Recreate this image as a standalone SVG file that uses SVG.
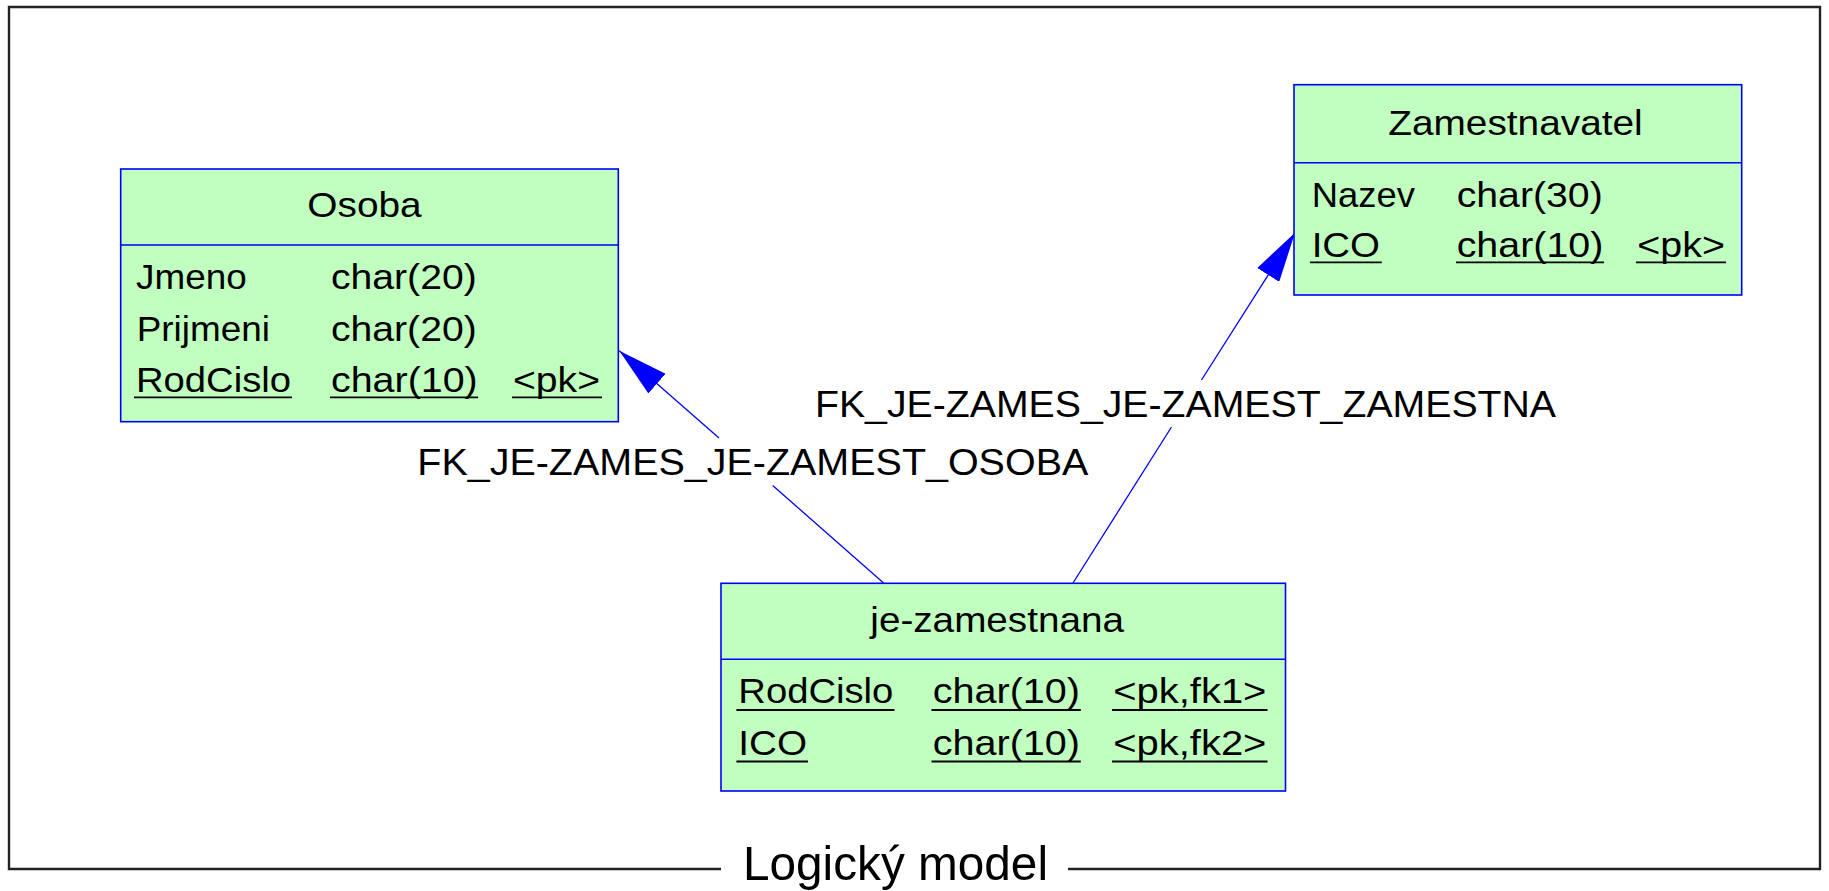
<svg xmlns="http://www.w3.org/2000/svg" width="1829" height="891" viewBox="0 0 1829 891">
<style>
text{font-family:"Liberation Sans",Arial,Helvetica,sans-serif;fill:#000}
.t{font-size:35px}
.h{font-size:35px}
.lbl{font-size:37px}
.ttl{font-size:49px}
.box{fill:#c0ffc0;stroke:#0000ff;stroke-width:1.6}
.div{stroke:#0000ff;stroke-width:1.6}
.ul{stroke:#000;stroke-width:1.8}
.con{stroke:#0000ff;stroke-width:1.3;fill:none}
.frame{stroke:#222;stroke-width:2.4;fill:none}
</style>
<defs>
<marker id="arr" markerUnits="userSpaceOnUse" markerWidth="50" markerHeight="26" viewBox="0 0 50 26" refX="50" refY="13" orient="auto">
<path d="M0,0 L50,13 L0,26 Z" fill="#0000ff"/>
</marker>
</defs>
<rect width="1829" height="891" fill="#fff"/>
<g id="frame">
<path class="frame" d="M721,869 H9 V7 H1820 V869 H1068"/>
<text class="ttl" x="743" y="880" textLength="305" lengthAdjust="spacingAndGlyphs">Logický model</text>
</g>
<g id="connectors">
<line class="con" x1="883.3" y1="582.7" x2="772.7" y2="485.5"/>
<line class="con" x1="719" y1="438" x2="619.3" y2="350.7" marker-end="url(#arr)"/>
<line class="con" x1="1073" y1="583" x2="1171.5" y2="427"/>
<line class="con" x1="1201.5" y1="380" x2="1295" y2="232.7" marker-end="url(#arr)"/>
<text class="lbl" x="417.3" y="475" textLength="671" lengthAdjust="spacingAndGlyphs">FK_JE-ZAMES_JE-ZAMEST_OSOBA</text>
<text class="lbl" x="815" y="417.3" textLength="741" lengthAdjust="spacingAndGlyphs">FK_JE-ZAMES_JE-ZAMEST_ZAMESTNA</text>
</g>
<g id="osoba">
<rect class="box" x="120.7" y="169" width="497.6" height="252.7"/>
<line class="div" x1="120.7" y1="245" x2="618.3" y2="245"/>
<text class="h" x="307.3" y="216.7" textLength="114.4" lengthAdjust="spacingAndGlyphs">Osoba</text>
<text class="t" x="136" y="289.3" textLength="110.7" lengthAdjust="spacingAndGlyphs">Jmeno</text>
<text class="t" x="331" y="289.3" textLength="145.7" lengthAdjust="spacingAndGlyphs">char(20)</text>
<text class="t" x="136.7" y="341.3" textLength="133.3" lengthAdjust="spacingAndGlyphs">Prijmeni</text>
<text class="t" x="331" y="341.3" textLength="145.7" lengthAdjust="spacingAndGlyphs">char(20)</text>
<text class="t" x="136" y="392" textLength="155" lengthAdjust="spacingAndGlyphs">RodCislo</text>
<text class="t" x="331" y="392" textLength="146.7" lengthAdjust="spacingAndGlyphs">char(10)</text>
<text class="t" x="513" y="392" textLength="87" lengthAdjust="spacingAndGlyphs">&lt;pk&gt;</text>
<line class="ul" x1="134" y1="397.3" x2="292" y2="397.3"/>
<line class="ul" x1="330" y1="397.3" x2="478" y2="397.3"/>
<line class="ul" x1="512" y1="397.3" x2="602" y2="397.3"/>
</g>
<g id="zamestnavatel">
<rect class="box" x="1294" y="84.7" width="447.7" height="210.3"/>
<line class="div" x1="1294" y1="162.7" x2="1741.7" y2="162.7"/>
<text class="h" x="1388.3" y="135" textLength="254.4" lengthAdjust="spacingAndGlyphs">Zamestnavatel</text>
<text class="t" x="1311.7" y="206.7" textLength="103.3" lengthAdjust="spacingAndGlyphs">Nazev</text>
<text class="t" x="1456.7" y="206.7" textLength="146" lengthAdjust="spacingAndGlyphs">char(30)</text>
<text class="t" x="1311.7" y="256.7" textLength="68.3" lengthAdjust="spacingAndGlyphs">ICO</text>
<text class="t" x="1456.7" y="256.7" textLength="146.6" lengthAdjust="spacingAndGlyphs">char(10)</text>
<text class="t" x="1637.3" y="256.7" textLength="87.7" lengthAdjust="spacingAndGlyphs">&lt;pk&gt;</text>
<line class="ul" x1="1310" y1="262.3" x2="1381.7" y2="262.3"/>
<line class="ul" x1="1456" y1="262.3" x2="1604" y2="262.3"/>
<line class="ul" x1="1636" y1="262.3" x2="1726" y2="262.3"/>
</g>
<g id="je-zamestnana">
<rect class="box" x="721" y="583.3" width="564.5" height="207.7"/>
<line class="div" x1="721" y1="659.3" x2="1285.5" y2="659.3"/>
<text class="h" x="870.3" y="631.7" textLength="253.7" lengthAdjust="spacingAndGlyphs">je-zamestnana</text>
<text class="t" x="738.3" y="703.3" textLength="155" lengthAdjust="spacingAndGlyphs">RodCislo</text>
<text class="t" x="932.7" y="703.3" textLength="147.3" lengthAdjust="spacingAndGlyphs">char(10)</text>
<text class="t" x="1113.3" y="703.3" textLength="153.1" lengthAdjust="spacingAndGlyphs">&lt;pk,fk1&gt;</text>
<text class="t" x="738.3" y="755" textLength="68.7" lengthAdjust="spacingAndGlyphs">ICO</text>
<text class="t" x="932.7" y="755" textLength="147.3" lengthAdjust="spacingAndGlyphs">char(10)</text>
<text class="t" x="1113.3" y="755" textLength="153.1" lengthAdjust="spacingAndGlyphs">&lt;pk,fk2&gt;</text>
<line class="ul" x1="736.4" y1="710" x2="894.4" y2="710"/>
<line class="ul" x1="931.5" y1="710" x2="1080.8" y2="710"/>
<line class="ul" x1="1112" y1="710" x2="1267.5" y2="710"/>
<line class="ul" x1="736.4" y1="761.5" x2="808" y2="761.5"/>
<line class="ul" x1="931.5" y1="761.5" x2="1080.8" y2="761.5"/>
<line class="ul" x1="1112" y1="761.5" x2="1267.5" y2="761.5"/>
</g>
</svg>
